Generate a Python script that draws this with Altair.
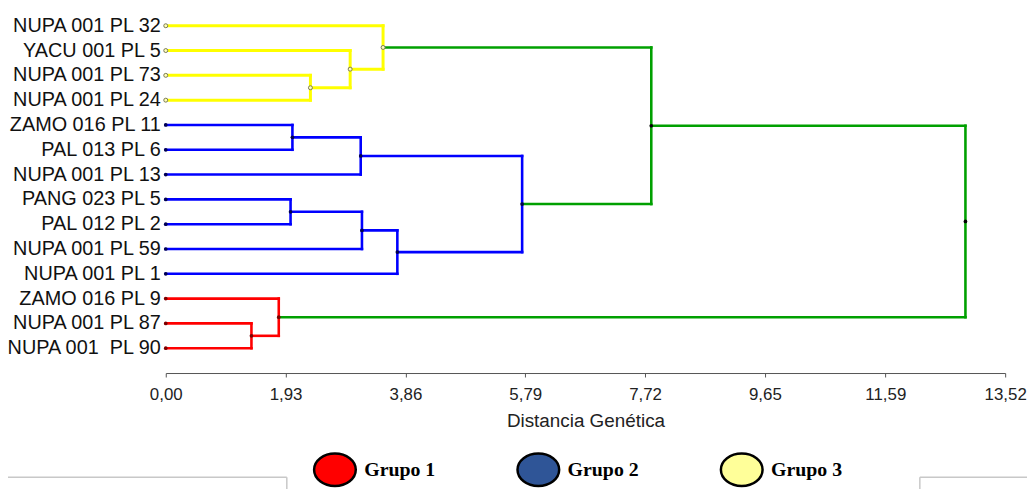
import altair as alt
import pandas as pd

# ---------------- data ----------------
leaf_names = [
    "NUPA 001 PL 32", "YACU 001 PL 5\u00a0", "NUPA 001 PL 73", "NUPA 001 PL 24",
    "ZAMO 016 PL 11", "PAL 013 PL 6", "NUPA 001 PL 13", "PANG 023 PL 5",
    "PAL 012 PL 2", "NUPA 001 PL 59", "NUPA 001 PL 1\u00a0", "ZAMO 016 PL 9",
    "NUPA 001 PL 87", "NUPA 001\u00a0 PL 90",
]
leaf_group = ["g3", "g3", "g3", "g3", "g2", "g2", "g2", "g2", "g2", "g2", "g2", "g1", "g1", "g1"]

# merges: (child a, child b, height, branch colour group); ids 0..13 are leaves, 14.. internal
merge_a = [2, 1, 0, 4, 17, 7, 19, 20, 18, 16, 12, 11, 23]
merge_b = [3, 14, 15, 5, 6, 8, 9, 10, 21, 22, 13, 24, 25]
merge_h = [2.33, 2.97, 3.50, 2.04, 3.14, 2.01, 3.16, 3.73, 5.74, 7.82, 1.38, 1.82, 12.88]
merge_g = ["g3", "g3", "g3", "g2", "g2", "g2", "g2", "g2", "g2", "g0", "g1", "g1", "g0"]

tick_values = [0.0, 1.93, 3.86, 5.79, 7.72, 9.65, 11.59, 13.52]
legend_labels = ["Grupo 1", "Grupo 2", "Grupo 3"]
legend_colors = ["#FF0000", "#2F5597", "#FFFF99"]

line_color = {"g0": "#00A000", "g1": "#FF0000", "g2": "#0000FF", "g3": "#FFFF00"}
dot_color = {"g0": "#000000", "g1": "#7A0000", "g2": "#000050", "g3": "#FFFFB0"}
line_width = {"g0": 2.6, "g1": 2.6, "g2": 2.6, "g3": 3.0}

# ---------------- layout tables built from the data ----------------
n = len(leaf_names)
node_x = {i: 0.0 for i in range(n)}
node_y = {i: float(i) for i in range(n)}
node_g = {i: leaf_group[i] for i in range(n)}
segs = []
for k, (a, b, h, g) in enumerate(zip(merge_a, merge_b, merge_h, merge_g)):
    nid = n + k
    node_x[nid] = h
    node_y[nid] = (node_y[a] + node_y[b]) / 2
    node_g[nid] = g
    segs.append({"x": h, "x2": h, "y": node_y[a], "y2": node_y[b], "col": line_color[g], "w": line_width[g]})
    for c in (a, b):
        segs.append({"x": node_x[c], "x2": h, "y": node_y[c], "y2": node_y[c], "col": line_color[g], "w": line_width[g]})

seg_df = pd.DataFrame(segs)
nodes_df = pd.DataFrame({
    "x": [node_x[i] for i in node_x],
    "y": [node_y[i] for i in node_x],
    "g": [node_g[i] for i in node_x],
})
nodes_df["dot"] = nodes_df["g"].map(dot_color)
labels_df = pd.DataFrame({"name": leaf_names, "x": [0.0] * n, "y": list(range(n))})
legend_df = pd.DataFrame({"grupo": legend_labels})

# ---------------- scales ----------------
xs = alt.Scale(domain=[0, 13.52], nice=False, zero=False)
ys = alt.Scale(domain=[-0.4, 14], reverse=True, nice=False, zero=False)

x_axis = alt.Axis(
    values=tick_values,
    labelExpr="replace(format(datum.value, '.2f'), '.', ',')",
    grid=False, domainColor="#555555", tickColor="#555555", tickSize=4,
    labelFont="Liberation Sans", labelFontSize=17, labelColor="#222222", labelPadding=10,
    labelFlush=False, labelOverlap=False,
    title="Distancia Genética", titleFont="Liberation Sans", titleFontSize=19,
    titleFontWeight="normal", titleColor="#222222", titlePadding=9,
)

lines = alt.Chart(seg_df).mark_rule(strokeCap="square").encode(
    x=alt.X("x:Q", scale=xs, axis=x_axis),
    x2="x2:Q",
    y=alt.Y("y:Q", scale=ys, axis=None),
    y2="y2:Q",
    color=alt.Color("col:N", scale=None),
    strokeWidth=alt.StrokeWidth("w:Q", scale=None),
)

yellow_pts = alt.Chart(nodes_df).transform_filter("datum.g == 'g3'").mark_point(
    filled=True, fill="#FFFFB8", stroke="#77775a", strokeWidth=1, size=16, opacity=1
).encode(x=alt.X("x:Q", scale=xs), y=alt.Y("y:Q", scale=ys))

dark_pts = alt.Chart(nodes_df).transform_filter("datum.g != 'g3'").mark_circle(
    size=14, opacity=1
).encode(x=alt.X("x:Q", scale=xs), y=alt.Y("y:Q", scale=ys), color=alt.Color("dot:N", scale=None))

labels = alt.Chart(labels_df).mark_text(
    align="right", baseline="middle", dx=-5, fontSize=20, font="Liberation Sans", color="#111111"
).encode(x=alt.X("x:Q", scale=xs), y=alt.Y("y:Q", scale=ys), text="name:N")

ellipse = "M -1 0 A 1 0.78 0 1 1 1 0 A 1 0.78 0 1 1 -1 0 Z"
legend_layer = alt.Chart(legend_df).transform_filter("false").mark_point(
    filled=True, stroke="black", strokeWidth=2.5, shape=ellipse, opacity=1
).encode(
    fill=alt.Fill(
        "grupo:N",
        scale=alt.Scale(domain=legend_labels, range=legend_colors),
        legend=alt.Legend(
            orient="none", legendX=148, legendY=435, direction="horizontal", title=None,
            symbolType=ellipse, symbolSize=1764, symbolStrokeColor="black", symbolStrokeWidth=2.5,
            symbolOpacity=1, symbolFillColor="#ffffff",
            labelFont="Liberation Serif", labelFontWeight="bold", labelFontSize=20,
            labelColor="#000000", labelOffset=7, columnPadding=77, padding=0,
            labelLimit=200,
        ),
    )
)

frame_df = pd.DataFrame({"k": ["a"]})
frame_h = alt.Chart(frame_df).mark_rule(color="#c8c8c8", strokeWidth=1.5).encode(
    x=alt.value(-161), x2=alt.value(122), y=alt.value(465)
)
frame_v = alt.Chart(frame_df).mark_rule(color="#c8c8c8", strokeWidth=1.5).encode(
    x=alt.value(122), y=alt.value(465), y2=alt.value(480)
)
frame_h2 = alt.Chart(frame_df).mark_rule(color="#c8c8c8", strokeWidth=1.5).encode(
    x=alt.value(760), x2=alt.value(870), y=alt.value(465)
)
frame_v2 = alt.Chart(frame_df).mark_rule(color="#c8c8c8", strokeWidth=1.5).encode(
    x=alt.value(760), y=alt.value(465), y2=alt.value(480)
)

chart = alt.layer(
    frame_h, frame_v, frame_h2, frame_v2, lines, yellow_pts, dark_pts, labels, legend_layer
).properties(
    width=846, height=360,
    autosize=alt.AutoSizeParams(type="none"),
    padding={"left": 159, "top": 6, "right": 22, "bottom": 115},
    background="white",
).configure_view(stroke=None)

chart.save("out.html", embed_options={"renderer": "svg", "actions": False})
